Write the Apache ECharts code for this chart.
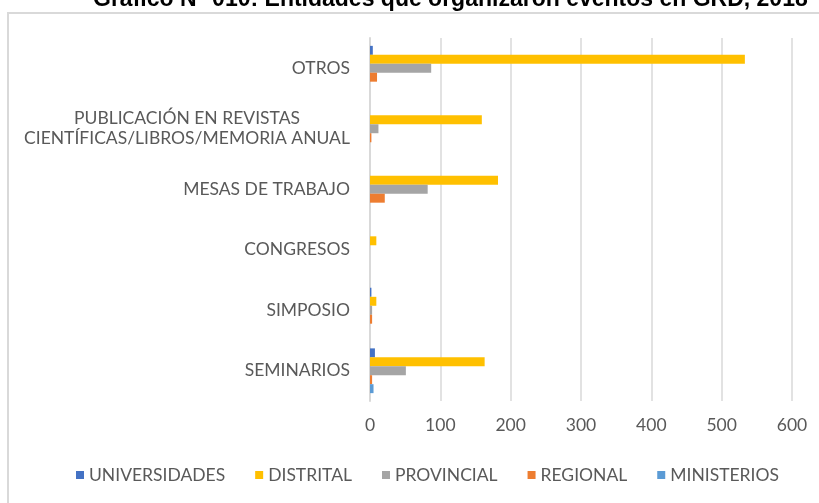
<!DOCTYPE html>
<html>
<head>
<meta charset="utf-8">
<script src="https://cdn.jsdelivr.net/npm/echarts@6/dist/echarts.min.js"></script>
<style>
  html, body { margin: 0; padding: 0; background: #fff; }
  #chart { width: 819px; height: 503px; }
</style>
</head>
<body>
<div id="chart"></div>
<script>
// categories, bottom to top
var categorias = ['SEMINARIOS', 'SIMPOSIO', 'CONGRESOS', 'MESAS DE TRABAJO',
    'PUBLICACIÓN EN REVISTAS\nCIENTÍFICAS/LIBROS/MEMORIA ANUAL', 'OTROS'];
var universidades = [7, 2, 0, 0, 0, 4];
var distrital = [163, 9, 9, 182, 159, 533];
var provincial = [51, 3, 0, 82, 12, 87];
var regional = [3, 3, 0, 21, 2, 10];
var ministerios = [5, 0, 0, 0, 0, 0];
var ejeX = [0, 600, 100];

var gris = '#595959';
var fuente = 'Lato';

var chart = echarts.init(document.getElementById('chart'));

function serie(nombre, datos, color) {
    return {
        name: nombre,
        type: 'bar',
        data: datos,
        itemStyle: { color: color },
        barGap: '0%',
        barCategoryGap: '26%',
        silent: true
    };
}

chart.setOption({
    animation: false,
    graphic: [{
        type: 'rect',
        shape: { x: 8, y: 13, width: 900, height: 600 },
        style: { fill: 'none', stroke: '#d9d9d9', lineWidth: 2 },
        silent: true
    }, {
        type: 'text',
        left: 93, top: -12,
        style: {
            text: 'Gráfico N° 010: Entidades que organizaron eventos en GRD, 2018',
            font: 'bold 23px "Liberation Sans"',
            fill: '#000'
        }
    }],
    grid: { left: 370, right: 27, top: 38, bottom: 102, containLabel: false },
    legend: {
        bottom: 14,
        left: 71,
        icon: 'rect',
        itemWidth: 8,
        itemHeight: 8,
        itemGap: 30,
        data: ['UNIVERSIDADES', 'DISTRITAL', 'PROVINCIAL', 'REGIONAL', 'MINISTERIOS'],
        textStyle: { color: gris, fontSize: 17.5, fontFamily: fuente }
    },
    xAxis: {
        type: 'value',
        min: ejeX[0], max: ejeX[1], interval: ejeX[2],
        axisLine: { show: false },
        axisTick: { show: false },
        splitLine: { lineStyle: { color: '#d9d9d9', width: 1.5 } },
        axisLabel: { color: gris, fontSize: 17.5, fontFamily: fuente, margin: 15 }
    },
    yAxis: {
        type: 'category',
        data: categorias,
        axisLine: { show: true, lineStyle: { color: '#d9d9d9', width: 2 } },
        axisTick: { show: false },
        axisLabel: {
            color: gris, fontSize: 17.5, fontFamily: fuente, margin: 20,
            lineHeight: 20,
            formatter: function (v) {
                if (v.indexOf('\n') < 0) return v;
                return v.split('\n').map(function (l) { return '{c|' + l + '}'; }).join('\n');
            },
            rich: { c: { width: 326, align: 'center', color: gris, fontSize: 17.5, fontFamily: fuente, lineHeight: 20 } }
        }
    },
    series: [
        serie('UNIVERSIDADES', universidades, '#4472C4'),
        serie('DISTRITAL', distrital, '#FFC000'),
        serie('PROVINCIAL', provincial, '#A5A5A5'),
        serie('REGIONAL', regional, '#ED7D31'),
        serie('MINISTERIOS', ministerios, '#5B9BD5')
    ]
});
</script>
</body>
</html>
